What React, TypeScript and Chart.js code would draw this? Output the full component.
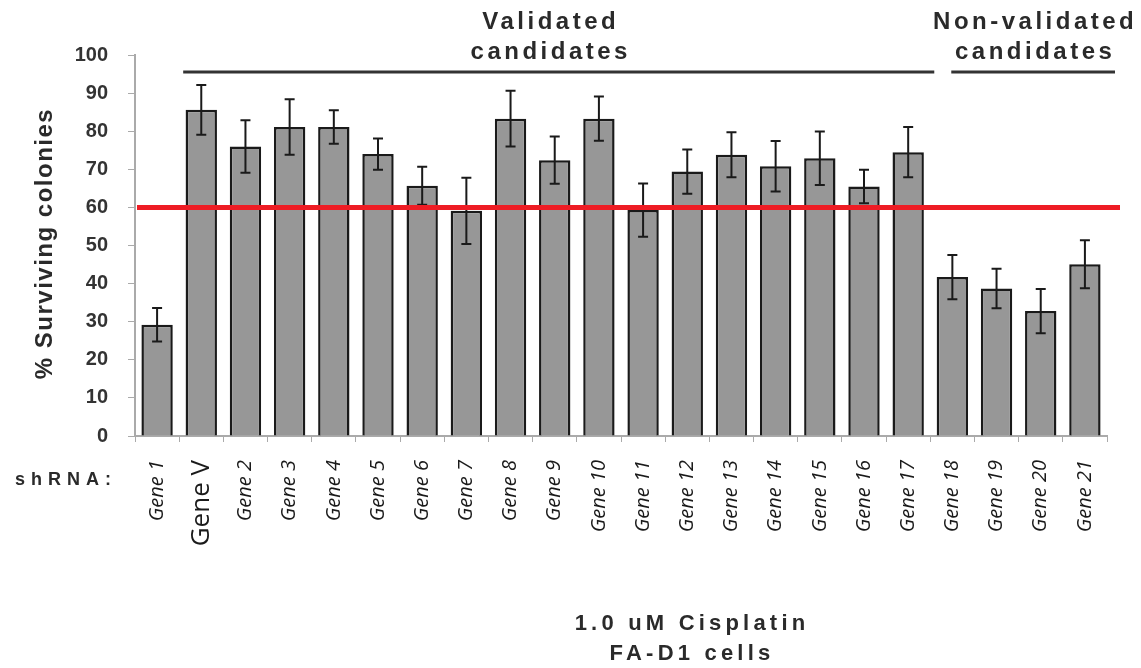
import React, { useEffect, useRef } from "react";
import { Chart, registerables } from "chart.js";

Chart.register(...registerables);

const categories = [
  "Gene 1", "Gene V", "Gene 2", "Gene 3", "Gene 4", "Gene 5", "Gene 6", "Gene 7",
  "Gene 8", "Gene 9", "Gene 10", "Gene 11", "Gene 12", "Gene 13", "Gene 14",
  "Gene 15", "Gene 16", "Gene 17", "Gene 18", "Gene 19", "Gene 20", "Gene 21",
];
const survival = [
  29.2, 85.6, 76.0, 81.1, 81.1, 74.0, 65.7, 59.1, 83.3, 72.4, 83.3, 59.3,
  69.4, 73.8, 70.8, 72.9, 65.5, 74.5, 41.7, 38.7, 32.8, 45.1,
];
const errors = [
  4.4, 6.5, 6.9, 7.3, 4.4, 4.1, 5.0, 8.7, 7.3, 6.2, 5.8, 7.0,
  5.8, 5.9, 6.6, 7.0, 4.4, 6.6, 5.8, 5.2, 5.8, 6.3,
];
const yTicks = [0, 10, 20, 30, 40, 50, 60, 70, 80, 90, 100];
const threshold = 60;
const groups = [
  { label: ["Validated", "candidates"], from: 1, to: 17 },
  { label: ["Non-validated", "candidates"], from: 18, to: 21 },
];
const yTitle = "% Surviving colonies";
const xPrefix = "shRNA:";
const bottomTitle = ["1.0 uM Cisplatin", "FA-D1 cells"];

const SANS = "'Liberation Sans', Arial, sans-serif";

const overlayPlugin = {
  id: "overlay",
  afterDatasetsDraw(chart: any) {
    const { ctx, scales } = chart;
    const x = scales.x;
    const y = scales.y;
    const meta = chart.getDatasetMeta(0);
    ctx.save();
    // error bars
    ctx.strokeStyle = "#1a1a1a";
    ctx.lineWidth = 2;
    meta.data.forEach((bar: any, i: number) => {
      const cx = bar.x;
      const top = y.getPixelForValue(survival[i] + errors[i]);
      const bot = y.getPixelForValue(survival[i] - errors[i]);
      ctx.beginPath();
      ctx.moveTo(cx, top);
      ctx.lineTo(cx, bot);
      ctx.moveTo(cx - 5, top);
      ctx.lineTo(cx + 5, top);
      ctx.moveTo(cx - 5, bot);
      ctx.lineTo(cx + 5, bot);
      ctx.stroke();
    });
    // threshold
    const ty = y.getPixelForValue(threshold);
    ctx.strokeStyle = "#ee1c24";
    ctx.lineWidth = 5;
    ctx.beginPath();
    ctx.moveTo(x.left + 2, ty);
    ctx.lineTo(x.right + 13, ty);
    ctx.stroke();

    // group brackets and labels
    const half = (x.getPixelForValue(1) - x.getPixelForValue(0)) / 2;
    const lineY = y.getPixelForValue(100) + 17;
    ctx.strokeStyle = "#333";
    ctx.lineWidth = 3;
    ctx.fillStyle = "#2a2a2a";
    ctx.textAlign = "center";
    ctx.textBaseline = "middle";
    ctx.font = `bold 24px ${SANS}`;
    (ctx as any).letterSpacing = "3.5px";
    groups.forEach((g, gi) => {
      const l = x.getPixelForValue(g.from) - half + (gi === 0 ? 4 : 21);
      const r = x.getPixelForValue(g.to) + half + (gi === 0 ? 4 : 8);
      ctx.beginPath();
      ctx.moveTo(l, lineY);
      ctx.lineTo(r, lineY);
      ctx.stroke();
      const c = gi === 0 ? (l + r) / 2 - 8 : (l + r) / 2 + 2;
      ctx.fillText(g.label[0], c, lineY - 50);
      ctx.fillText(g.label[1], c, lineY - 20);
    });

    // y title
    ctx.save();
    ctx.font = `bold 24px ${SANS}`;
    (ctx as any).letterSpacing = "1.5px";
    ctx.translate(45, (y.top + y.bottom) / 2 - 2);
    ctx.rotate(-Math.PI / 2);
    ctx.fillText(yTitle, 0, 0);
    ctx.restore();

    // shRNA prefix
    ctx.font = `bold 18px ${SANS}`;
    (ctx as any).letterSpacing = "6px";
    ctx.textAlign = "left";
    ctx.fillText(xPrefix, 15, y.bottom + 44);

    // bottom title
    ctx.textAlign = "center";
    ctx.font = `bold 22px ${SANS}`;
    (ctx as any).letterSpacing = "4.2px";
    ctx.fillText(bottomTitle[0], 692, y.bottom + 188);
    ctx.fillText(bottomTitle[1], 692, y.bottom + 218);
    ctx.restore();
  },
};

export default function App() {
  const ref = useRef<HTMLCanvasElement | null>(null);
  useEffect(() => {
    document.body.style.margin = "0";
    const canvas = ref.current!;
    const chart = new Chart(canvas, {
      type: "bar",
      data: {
        labels: categories,
        datasets: [
          {
            data: survival,
            backgroundColor: "#979797",
            borderColor: "#1a1a1a",
            borderWidth: 2.5,
            categoryPercentage: 1,
            barPercentage: 0.71,
          },
        ],
      },
      options: {
        animation: false,
        responsive: false,
        events: [],
        layout: { padding: { top: 55, right: 34, left: 0, bottom: 0 } },
        plugins: { legend: { display: false }, tooltip: { enabled: false } },
        scales: {
          x: {
            afterFit(scale: any) {
              scale.height = 232;
            },
            grid: {
              drawOnChartArea: false,
              drawTicks: true,
              tickLength: 6,
              color: "#aaa",
              offset: true,
            },
            border: { display: true, color: "#aaa", width: 2 },
            ticks: {
              autoSkip: false,
              minRotation: 90,
              maxRotation: 90,
              padding: 18,
              color: "#1a1a1a",
              font: (c: any) =>
                c.index === 1
                  ? { family: "'Open Sans', sans-serif", size: 26, style: "normal" }
                  : { family: "'Open Sans', sans-serif", size: 20, style: "italic" },
            },
          },
          y: {
            min: 0,
            max: 100,
            afterFit(scale: any) {
              scale.width = 135;
            },
            afterBuildTicks(scale: any) {
              scale.ticks = yTicks.map((v) => ({ value: v }));
            },
            grid: {
              drawOnChartArea: false,
              drawTicks: true,
              tickLength: 7,
              color: "#aaa",
            },
            border: { display: true, color: "#aaa", width: 2 },
            ticks: {
              padding: 20,
              color: "#333",
              font: { family: SANS, size: 20, weight: "bold" },
            },
          },
        },
      },
      plugins: [overlayPlugin],
    } as any);
    return () => chart.destroy();
  }, []);
  return (
    <div style={{ width: 1141, height: 668, background: "#fff" }}>
      <canvas ref={ref} width={1141} height={668} style={{ display: "block" }} />
    </div>
  );
}
